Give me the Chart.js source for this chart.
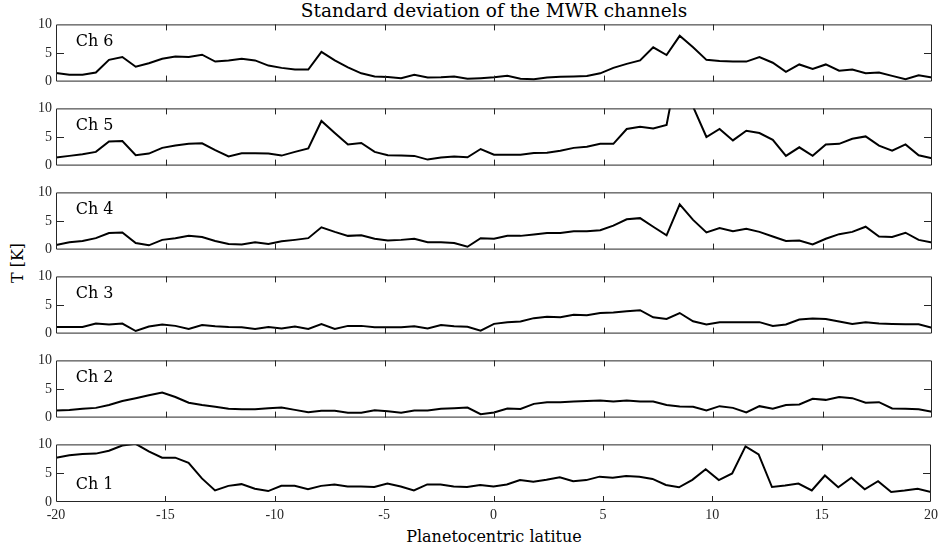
<!DOCTYPE html>
<html>
<head>
<meta charset="utf-8">
<script src="https://cdn.jsdelivr.net/npm/chart.js@4"></script>
<style>
  body { margin: 0; background: #fff; }
  #fig { position: relative; width: 943px; height: 552px; overflow: hidden; }
  #fig canvas { position: absolute; left: 0; }
  .lbl { position: absolute; font-family: "DejaVu Serif", serif; font-size: 16px; color: #000; white-space: nowrap; }
</style>
</head>
<body>
<div id="fig">
  <div class="lbl" id="title" style="left:494px; top:10px; font-size:18.5px; transform:translate(-50%,-50%);">Standard deviation of the MWR channels</div>
  <div class="lbl" id="ylab" style="left:17px; top:263px; transform:translate(-50%,-50%) rotate(-90deg);">T [K]</div>
  <div class="lbl" id="xlab" style="left:494px; top:536px; transform:translate(-50%,-50%);">Planetocentric latitue</div>
</div>
<script>
// planetocentric latitude of each sample
const lat = [-20.00, -19.39, -18.79, -18.18, -17.58, -16.97, -16.36, -15.76, -15.15, -14.55,
  -13.94, -13.33, -12.73, -12.12, -11.52, -10.91, -10.30, -9.70, -9.09, -8.48,
  -7.88, -7.27, -6.67, -6.06, -5.45, -4.85, -4.24, -3.64, -3.03, -2.42,
  -1.82, -1.21, -0.61, 0.00, 0.61, 1.21, 1.82, 2.42, 3.03, 3.64,
  4.24, 4.85, 5.45, 6.06, 6.67, 7.27, 7.88, 8.48, 9.09, 9.70,
  10.30, 10.91, 11.52, 12.12, 12.73, 13.33, 13.94, 14.55, 15.15, 15.76,
  16.36, 16.97, 17.58, 18.18, 18.79, 19.39, 20.00];

const ch6 = [1.5, 1.2, 1.2, 1.6, 3.8, 4.3, 2.6, 3.2, 4.0, 4.4, 4.3, 4.7, 3.5, 3.7, 4.0, 3.7, 2.8, 2.4, 2.1, 2.1,
  5.2, 3.7, 2.5, 1.45, 0.9, 0.8, 0.6, 1.2, 0.7, 0.75, 0.9, 0.5, 0.6,
  0.75, 1.0, 0.5, 0.4, 0.7, 0.85, 0.9, 1.0, 1.45, 2.4, 3.1, 3.7, 6.0, 4.65, 8.0, 6.0, 3.8, 3.6,
  3.5, 3.5, 4.3, 3.3, 1.7, 3.0, 2.2, 3.0, 1.9, 2.1, 1.45, 1.6, 1.0, 0.4, 1.1, 0.7];
const ch5 = [1.4, 1.7, 2.0, 2.4, 4.2, 4.3, 1.8, 2.1, 3.1, 3.5, 3.8, 3.9, 2.7, 1.6, 2.15, 2.15, 2.1, 1.75, 2.4, 3.0,
  7.8, 5.7, 3.7, 3.95, 2.4, 1.8, 1.75, 1.7, 1.05, 1.4, 1.6, 1.45, 2.9,
  1.9, 1.9, 1.9, 2.2, 2.25, 2.6, 3.1, 3.3, 3.8, 3.8, 6.4, 6.8, 6.5, 7.1, 19, 10.3, 5.0, 6.4,
  4.4, 6.1, 5.7, 4.5, 1.7, 3.2, 1.7, 3.7, 3.8, 4.7, 5.1, 3.5, 2.6, 3.7, 1.8, 1.3];
const ch4 = [0.8, 1.3, 1.5, 2.0, 2.9, 3.0, 1.15, 0.75, 1.7, 2.0, 2.4, 2.2, 1.5, 1.0, 0.9, 1.3, 1.0, 1.45, 1.7, 2.0,
  3.9, 3.1, 2.4, 2.5, 1.9, 1.6, 1.7, 1.9, 1.3, 1.3, 1.15, 0.5, 2.0,
  1.9, 2.4, 2.4, 2.65, 2.9, 2.9, 3.2, 3.2, 3.4, 4.2, 5.3, 5.5, 4.0, 2.5, 7.9, 5.2, 3.0, 3.75,
  3.2, 3.65, 3.1, 2.3, 1.5, 1.6, 0.9, 1.9, 2.7, 3.1, 4.0, 2.3, 2.2, 2.95, 1.7, 1.25];
const ch3 = [1.15, 1.15, 1.15, 1.75, 1.6, 1.75, 0.45, 1.25, 1.6, 1.35, 0.8, 1.5, 1.3, 1.15, 1.1, 0.8, 1.15, 0.9, 1.25, 0.8,
  1.65, 0.8, 1.35, 1.35, 1.1, 1.1, 1.1, 1.3, 0.9, 1.5, 1.3, 1.2, 0.5,
  1.7, 2.0, 2.1, 2.7, 2.95, 2.85, 3.3, 3.2, 3.6, 3.7, 3.9, 4.1, 2.85, 2.55, 3.6, 2.15, 1.6, 2.0,
  2.0, 2.0, 2.0, 1.35, 1.6, 2.45, 2.65, 2.55, 2.1, 1.7, 2.0, 1.75, 1.7, 1.65, 1.65, 1.0];
const ch2 = [1.25, 1.35, 1.55, 1.7, 2.2, 2.9, 3.4, 3.9, 4.4, 3.6, 2.6, 2.2, 1.9, 1.55, 1.45, 1.45, 1.65, 1.75, 1.35, 0.95,
  1.2, 1.2, 0.85, 0.85, 1.3, 1.1, 0.85, 1.25, 1.25, 1.55, 1.65, 1.75, 0.6,
  0.9, 1.6, 1.5, 2.4, 2.7, 2.7, 2.8, 2.9, 3.0, 2.8, 3.0, 2.8, 2.8, 2.2, 1.95, 1.9, 1.25, 2.0,
  1.7, 0.9, 2.0, 1.55, 2.2, 2.3, 3.3, 3.1, 3.6, 3.4, 2.6, 2.7, 1.6, 1.55, 1.45, 1.0];
const ch1 = [7.7, 8.1, 8.35, 8.4, 8.9, 9.8, 10.1, 8.8, 7.7, 7.7, 6.8, 4.1, 2.0, 2.8, 3.1, 2.3, 1.9, 2.8, 2.8, 2.2,
  2.8, 3.05, 2.7, 2.7, 2.6, 3.2, 2.7, 2.0, 3.05, 3.05, 2.7, 2.6, 2.95,
  2.7, 3.05, 3.8, 3.5, 3.85, 4.3, 3.6, 3.8, 4.4, 4.2, 4.5, 4.4, 4.0, 2.95, 2.55, 3.85, 5.7, 3.8,
  4.95, 9.65, 8.25, 2.6, 2.85, 3.2, 2.0, 4.6, 2.55, 4.2, 2.2, 3.6, 1.75, 2.0, 2.3, 1.75];

const channels = ['Ch 6', 'Ch 5', 'Ch 4', 'Ch 3', 'Ch 2', 'Ch 1'];
const series = [ch6, ch5, ch4, ch3, ch2, ch1];
// where the channel name sits, in data units [lat, T]
const labelPos = [[-19.1, 7], [-19.1, 7], [-19.1, 7], [-19.1, 7], [-19.1, 7], [-19.1, 3]];

const xTicks = [-15, -10, -5, 0, 5, 10, 15];
const yTicks = [5];

const axisColor = '#262626';
const tickFont = { family: 'Liberation Serif', size: 14 };

// matlab-like box with inward ticks and the channel name
const boxPlugin = {
  id: 'box',
  afterDatasetsDraw(chart, args, opts) {
    const ctx = chart.ctx;
    const a = chart.chartArea;
    const xs = chart.scales.x, ys = chart.scales.y;
    ctx.save();
    ctx.strokeStyle = axisColor;
    ctx.lineWidth = 1;
    ctx.beginPath();
    ctx.rect(a.left + 0.5, a.top + 0.5, a.right - a.left - 1, a.bottom - a.top - 1);
    for (const t of xTicks) {
      const px = Math.round(xs.getPixelForValue(t)) + 0.5;
      ctx.moveTo(px, a.top); ctx.lineTo(px, a.top + 6);
      ctx.moveTo(px, a.bottom); ctx.lineTo(px, a.bottom - 6);
    }
    for (const t of yTicks) {
      const py = Math.round(ys.getPixelForValue(t)) + 0.5;
      ctx.moveTo(a.left, py); ctx.lineTo(a.left + 8, py);
      ctx.moveTo(a.right, py); ctx.lineTo(a.right - 8, py);
    }
    ctx.stroke();
    ctx.fillStyle = '#000';
    ctx.font = '16px "DejaVu Serif"';
    ctx.textBaseline = 'middle';
    ctx.fillText(opts.name, xs.getPixelForValue(opts.pos[0]), ys.getPixelForValue(opts.pos[1]));
    ctx.restore();
  }
};

const fig = document.getElementById('fig');
const panelTop = [24, 108, 192, 276, 360, 444];
const panelH = 58;

for (let i = 0; i < 6; i++) {
  const last = i === 5;
  const cv = document.createElement('canvas');
  const h = panelH + 12 + (last ? 30 : 12);
  cv.width = 943; cv.height = h;
  cv.style.width = '943px'; cv.style.height = h + 'px';
  cv.style.top = (panelTop[i] - 12) + 'px';
  fig.appendChild(cv);

  const pts = lat.map((x, j) => ({ x: x, y: series[i][j] }));

  new Chart(cv, {
    type: 'line',
    data: {
      datasets: [{
        data: pts,
        borderColor: '#000',
        borderWidth: 2,
        pointRadius: 0,
        tension: 0,
        fill: false
      }]
    },
    options: {
      responsive: false,
      animation: false,
      events: [],
      layout: { padding: { left: 0, right: 11, top: 12, bottom: last ? 0 : 12 } },
      plugins: {
        legend: { display: false },
        tooltip: { enabled: false },
        box: { name: channels[i], pos: labelPos[i] }
      },
      scales: {
        x: {
          type: 'linear',
          min: -20, max: 20,
          display: last,
          grid: { display: false, drawTicks: false },
          border: { display: false },
          ticks: { stepSize: 5, font: tickFont, color: axisColor, padding: 5, maxRotation: 0 },
          afterFit(s) { s.height = last ? 30 : 0; }
        },
        y: {
          min: 0, max: 10,
          grid: { display: false, drawTicks: false },
          border: { display: false },
          ticks: { stepSize: 5, font: tickFont, color: axisColor, padding: 4 },
          afterFit(s) { s.width = 56; }
        }
      }
    },
    plugins: [boxPlugin]
  });
}
</script>
</body>
</html>
